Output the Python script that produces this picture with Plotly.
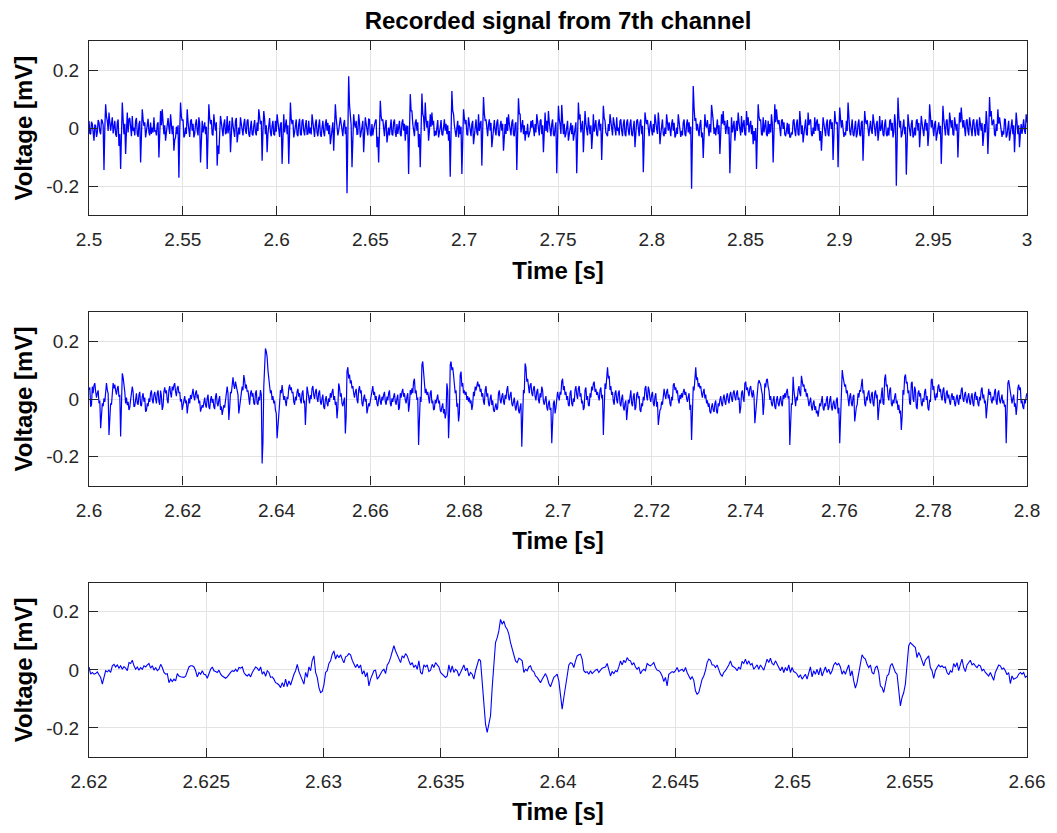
import numpy as np
import plotly.graph_objects as go

# Voltage samples in microvolts, evenly spaced in time.
# The two upper panels are dense, so each has a second list with the
# in-between excursions of the trace (read as the other edge of the band).
wide_uv = [
    25, -21, 14, -43, 8, -15, 19, -21, 25, -144, 82, 25, 54, -9, 37, 8, -21, 19, -61, -141,
    88, -21, -89, 54, 31, -21, 42, 2, 25, -21, 14, -118, 65, 8, -32, 14, -15, 19, 2, 37,
    -9, 14, -101, 59, 65, -21, -43, 25, 2, 48, -21, -78, -32, -21, -171, 88, 25, -32, 2, 65,
    -21, 25, -9, -32, 14, -9, 37, -118, 25, 2, -21, -141, 82, 14, -21, 48, -9, -129, -89, 42,
    -9, 14, -21, 42, 2, -83, 37, -21, 25, -49, 2, 37, -21, 14, -9, 25, -21, 2, -21, 8,
    -15, 19, 65, 14, -112, 59, -21, -83, 25, -15, 8, -21, 25, 48, -21, 14, -123, 48, 14, -21,
    -123, 88, 14, -32, 25, -21, 14, -21, 25, -9, 8, -21, 25, 2, 48, -21, 14, -15, 8, -21,
    2, -15, 14, -9, -21, -55, 2, -78, 82, 14, -9, 37, -21, 14, -21, -224, 179, 25, -135, 48,
    2, -21, 48, -32, 14, -83, 37, -9, 31, -21, 14, -3, 25, -66, -118, 94, 25, -21, 14, -49,
    2, 14, -21, 19, -15, 14, 2, -21, 19, -9, -43,
    -21, -158, 117, 59, -21, 19, -9, -66, -135, 119, 37, 88, 2, -43, 48, 54, 25, -9, 14, -32,
    2, -21, 19, -9, -21, -43, -167, 128, 48, -21, 2, -32, -21, -158, 65, 14, -21, 37, -9, 14,
    -55, 19, -15, 48, 14, -129, 107, 25, -21, 14, -9, -66, 14, -9, 19, -21, 8, -9, -78, 14,
    37, 48, -15, 19, -21, 14, -144, 103, 48, 14, -21, -43, -21, -32, -9, 2, -21, 14, 48, -9,
    25, -21, -83, 54, 25, 59, -21, 14, -21, 2, -155, 77, 14, 80, -21, -32, 2, -43, -9, -21,
    -43, 14, -155, 88, 48, 2, -83, 59, -9, 37, -21, -72, 48, 2, -21, 14, -9, -110, 77, 25,
    -21, 14, 48, -3, 37, -21, 37, 2, 25, -9, 14, -21, 19, -9, 14, -21, 2, -66, 25, -9,
    19, -21, -152, 54, 14, -21, 8, -9, 14, 48, -3, 54, -55, 14, -21, 2, 48, -9, -21, 14,
    -9, -32, 2, 48, -21, -9, 19, -21, 14, -15, -21, -209, 145, 25, -9, -21, 14, -32, -103, 48,
    2, -21, 14, 80, 25, 2, 19, -21, -89,
    48, 59, 25, 14, -21, -155, 37, 14, -43, 25, 54, -21, 42, 14, -21, 59, 37, 8, -21, -55,
    -43, -141, 82, 25, -21, 37, 2, -21, 25, 14, 48, -118, 82, 65, 14, -21, 25, -3, -21, -9,
    -21, -32, -15, 25, -9, 14, -21, 59, -21, -49, 14, -21, 54, 25, -21, 2, 37, 19, -9, -43,
    -78, 37, -21, 14, -21, 25, -3, -110, 59, 14, -135, 71, 2, -21, -15, 25, 88, -9, 14, -21,
    2, -32, 14, -21, 19, -112, 59, 14, -21, 2, -9, 48, -21, 14, -43, 42, 2, -21, 14, -21,
    2, 25, -9, -32, 48, -198, 105, 2, -32, 25, -21, -160, 48, -21, 14, -32, 2, 25, -9, -66,
    42, -21, 14, -9, -61, 82, 2, -21, 14, -43, -9, -21, -123, 77, -9, 25, -21, 54, 2, -21,
    37, -9, -101, 54, 71, 2, -21, 25, -9, 37, -21, 25, -9, 14, -21, 37, -9, -61, 14, 59,
    -89, 107, 59, 25, -21, 14, 65, 37, -21, -9, 31, -32, 2, -43, 25, -21, -83, 54, -21, -66,
    14, 25, -9, 48,
]

wide_uv_mid = [
    -18, 22, -25, 12, -30, 28, -12, 30, 10, 0, 40, -10, 20, 15, -18, 25, -30, 30, -20, 0,
    30, 15, -10, -15, 35, -28, -10, -25, 35, -30, 25, -5, 30, 20, -10, 32, -25, -20, -15, -10,
    -25, 20, -10, 10, 20, 10, -15, 35, -20, 10, 8, -40, 5, 10, -10, 40, 30, -25, -20, 20,
    -30, 30, 15, -20, 30, -25, 15, -30, -15, 20, 5, -5, 35, 28, -25, 15, 20, -60, -20, 20,
    -28, 30, -15, -18, 25, -20, 10, -30, 35, -15, -22, 15, -25, 32, -20, 30, -30, 25, -25, 28,
    -25, -10, 30, 25, -10, 30, 10, -20, 35, -28, 25, -25, -12, 15, -30, 20, -10, -15, 30, 10,
    -5, 30, 28, -15, 30, -28, 32, -25, 30, -25, 28, -20, -18, -22, 20, -30, 30, -28, 30, -30,
    25, -28, 30, 18, 10, -25, 20, -10, 35, -25, 10, 15, -28, 28, 5, -20, 80, 10, -10, 15,
    25, -20, 20, -15, 25, -20, 15, -25, 30, -28, -25, 20, 30, -30, -10, 40, 30, -28, 28, -15,
    -25, 30, -25, 30, -30, -20, 25, -28, 30, 15, 10,
    8, -10, 60, 15, -28, 30, 20, -20, -5, 50, -10, 30, 25, -10, 5, 10, -28, -25, 28, -20,
    28, -25, 30, 15, 10, -10, -15, 60, 10, -30, 25, 10, 5, -10, 35, 28, -25, 15, -28, 25,
    -20, 30, -25, -10, 25, -10, 50, 30, -28, 30, 18, -25, 28, -25, 30, -28, 25, 15, -25, -20,
    -10, 15, -25, 30, -28, 20, -10, 50, -15, 28, 10, -10, 15, -20, 25, 28, -28, -15, 15, -25,
    30, 10, -15, -10, -15, 20, -28, 30, -28, 20, -10, 30, -20, 25, 15, -20, 25, -20, 18, 10,
    -15, 20, -10, 30, -15, 25, -15, 15, -25, 15, 10, -25, -12, 28, -28, 30, 15, -10, 35, -15,
    -28, -10, 15, -25, 15, -25, -10, -25, 30, -28, 30, -28, 30, -25, 30, -28, 25, -20, 30, -28,
    30, 8, -10, 30, 28, -28, 25, -25, -15, 15, -20, 20, -20, 30, -28, -20, 15, 20, -28, 30,
    18, -25, -20, 15, -30, -25, 30, -28, 30, 20, 5, -20, 70, 35, 15, -28, 28, -15, -15, 10,
    28, -28, -15, 30, -20, -25, 30, 10, -20,
    15, 10, -20, 28, 5, -15, -15, 25, -15, -10, 20, -25, -15, 28, -25, 10, -15, 25, 10, -10,
    0, -10, 40, 30, -25, -15, 28, -28, -20, -15, 15, -10, 20, 30, 28, -28, 30, 20, -28, 18,
    15, -30, -22, 30, -28, 30, -25, 15, 10, -20, 30, -25, 10, 30, -28, -20, -10, 30, 15, -10,
    -25, 15, -28, 30, -28, 30, 20, -10, 25, 20, -10, 30, 28, -30, -25, -10, 25, -25, 30, -28,
    25, -20, 30, -28, 25, -10, 25, 28, -28, 25, -20, 15, -28, 25, -15, -10, 28, -28, 30, -28,
    -25, 30, 18, -15, 15, -10, 40, 25, -20, 30, 5, -10, 15, -28, 28, -25, -25, 30, 18, -20,
    15, -28, 30, 18, -20, 35, 28, -28, 25, -20, 20, 8, -10, 30, -25, 30, -25, 15, 28, -25,
    15, 15, -15, 20, 30, 28, -28, 30, -25, 15, -28, 30, -28, 30, -25, 15, 18, -25, -15, 20,
    -10, 40, 10, 30, -28, -10, 15, 15, -30, -22, 30, -25, 25, -15, 30, 10, -20, 20, 10, -20,
    -20, 30, -20, 20,
]

mid_uv = [
    31, -27, 43, 48, 25, 20, -15, -101, -15, 2, 43, 31, -125, -15, 43, 37, 29, 37, 8, -130,
    89, 54, -15, -21, -38, -3, 43, -27, 8, -15, 14, -21, 8, -9, -44, -15, 2, 20, -3, 14,
    2, 20, -9, 29, -38, 25, 20, -3, 31, 20, 43, 48, 25, 37, 20, -9, -38, -3, -15, -50,
    2, 14, 29, 8, 20, 2, -15, -44, -21, -9, -21, 2, -27, -3, -13, -27, 8, -15, -3, -38,
    -55, -21, -3, 43, -73, 25, 66, 48, 60, 20, -50, 2, 43, 83, 37, 25, -9, 20, 8, -15,
    20, -15, 8, 31, -223, 43, 175, 146, 60, 20, -3, -15, -38, -136, -27, 31, 48, -3, -15, 8,
    37, 31, 20, -9, 8, 25, 8, -3, 20, -15, -90, 43, -3, 14, 37, 14, 25, 2, 20, -9,
    2, -27, -3, -15, 2, 20, 25, -3, -21, -67, 54, 8, -15, -9, -119, 95, 71, 54, 37, 20,
    25, -3, 31, 20, -15, 2, -9, -50, -15, -3, 37, 14, -3, -15, 2, -9, 8, 14, -9, 8,
    20, -15, 2, 8, -9, 2, -38, 20, 25, 8, -3,
    8, -44, 31, 37, 60, 20, -3, -159, 8, 118, 83, 20, 14, -3, 20, -15, -38, -3, 2, -15,
    -38, -27, -50, -67, 54, -136, 118, 100, 83, 20, -27, -78, 83, 43, 20, 14, -3, -9, -15, -38,
    25, 43, 54, 43, 25, 8, -9, 31, 8, -15, 2, -21, -38, -27, -38, 20, -3, 8, -9, 14,
    31, 8, 14, -15, -9, -27, -15, -38, -27, -165, 31, 123, 60, 31, 48, 20, 37, 8, 25, -3,
    20, 43, -9, -3, -27, -15, -38, -153, -15, -50, 14, 8, 25, 60, 31, 14, -3, -21, 20, -15,
    2, 31, 14, 37, 8, -15, -38, 31, -3, -21, 20, 43, 54, 25, 14, 8, 31, 2, -125, 54,
    100, 71, 31, 14, -9, 20, -3, 20, -15, 2, -27, -15, -73, -3, 20, -15, 8, -38, 14, 2,
    -38, -15, 8, 37, 8, 43, 2, 14, -15, 8, -27, -90, -38, -9, 20, 14, 25, 2, -15, 8,
    48, 31, 20, -3, 14, 20, 25, 14, 2, 8, -38, -142, 43, 100, 66, 43, 37, 20, 25, 2,
    -15, -27, -44, -27, -38, -15, -44, -15, -3,
    -15, 2, -9, 8, -3, 14, 2, 20, 8, 20, -3, -50, 20, 2, 54, 31, 25, 37, 20, 31,
    -84, -3, 54, 56, 31, -55, 54, 66, 43, -3, -15, -3, -27, -3, -15, -3, -15, 14, 20, 25,
    2, -159, -15, 77, -15, 8, 31, 20, 80, 43, 25, 8, -15, -9, -27, -15, -38, -50, -61, -15,
    -3, -32, -15, -3, -38, -3, -27, -15, -32, -3, -50, -153, 89, 77, 43, 20, -15, 8, -15, 8,
    -78, -27, 20, 31, 60, 20, -15, 8, 20, -3, 14, -15, 20, 2, -73, -3, 31, -15, 71, 43,
    8, 31, -15, -3, 8, -15, -38, -50, -107, 31, 77, 54, 20, -15, 54, 2, 43, -27, 20, 8,
    -15, 2, 25, -3, -32, -3, 66, 31, 8, 20, 43, 25, 8, 31, -3, 20, 2, -9, 8, -3,
    -15, 2, -9, 14, 31, 2, 14, -3, 8, -9, 8, -15, 14, -3, -15, 8, 31, 2, -15, -67,
    25, 14, -3, 8, 25, -9, 20, -3, 2, -15, -27, -153, 54, 43, -3, 2, -27, -55, 37, 31,
    -15, -27, -3, 8,
]

mid_uv_mid = [
    40, -20, 20, 55, 5, 30, -5, -60, -25, -10, 55, 20, -50, -20, 55, 50, 15, 45, 15, -5,
    75, 25, 5, -10, -30, 20, 25, -25, 20, -20, 25, -25, 20, 5, -40, -25, -10, 30, -15, 25,
    -15, 30, -20, 10, -25, 40, 30, -15, 45, 5, 30, 55, 10, 45, 25, 0, -25, 10, -5, -30,
    -15, 0, 35, -5, 30, 15, -5, -35, -30, 5, -30, 15, -35, 10, 0, -35, 20, -25, 10, -25,
    -40, -30, 15, 20, -30, 20, 75, 35, 45, 15, -30, 10, 30, 65, 50, 30, -20, 30, 20, -20,
    30, -20, -5, 15, -150, 100, 165, 100, 45, 30, 10, -5, -50, -80, -15, 20, 30, 10, -25, 0,
    50, 40, 25, -20, -5, 35, 20, -15, 30, -5, -40, 25, -15, 0, 45, 0, 35, -10, 30, -20,
    15, -35, 10, -25, -10, 5, 35, 10, -10, -30, 40, 20, -25, 5, -60, 110, 85, 65, 45, 5,
    35, -15, 45, 30, -25, 15, 0, -35, -25, 10, 45, 25, 10, -25, 15, -20, -5, 25, -20, -5,
    30, -25, -10, 20, -20, 15, -30, 5, 35, 20, -15,
    20, -20, 15, 20, 70, 30, 5, -60, -10, 130, 60, 35, 25, -15, 30, -5, -35, -15, 15, -5,
    -45, -15, -35, -50, 30, -60, 130, 110, 60, 30, -15, -50, 95, 55, 30, 25, 10, 5, -5, -20,
    10, 30, 60, 50, 35, 20, -20, 45, 20, -25, 15, -5, -45, -15, -30, 30, -15, 20, -20, 0,
    45, -5, 25, -25, 5, -40, -5, -50, -15, -70, 20, 110, 70, 20, 55, 10, 45, -5, 35, -15,
    5, 30, -20, 10, -40, -5, -30, -70, -5, -30, 25, -5, 15, 70, 45, 25, 10, -25, 30, -25,
    -10, 45, 0, 45, 20, -5, -30, 40, 10, -25, 5, 30, 60, 35, 25, -5, 40, 15, -40, 35,
    110, 80, 45, 25, -20, 30, -15, 30, -25, 15, -40, -5, -40, -15, 30, -25, 20, -30, 25, 10,
    -45, -25, -5, 45, -5, 30, -10, 25, -25, 20, -10, -60, -35, -20, 35, 0, 35, 15, -25, -5,
    55, 40, 30, -15, 0, 5, 35, 25, -10, 20, -20, -50, 30, 110, 75, 55, 45, 5, 35, 15,
    -5, -15, -50, -15, -45, -5, -50, -25, 10,
    -25, 15, -20, 20, -15, 25, -10, 30, -5, 30, 5, -30, 30, -10, 60, 40, 10, 45, 5, 10,
    -40, 10, 65, 50, 15, -20, 40, 70, 30, 10, -25, 10, -35, 10, -25, 10, -25, 0, 5, 35,
    10, -70, -20, 30, -25, -5, 45, 10, 65, 50, 35, 20, -25, 5, -40, -5, -25, -40, -45, -25,
    10, -40, -25, 10, -30, 10, -40, -5, -35, 5, -30, -40, 100, 65, 50, 30, -25, 20, -25, 15,
    -50, -20, 5, 25, 70, 30, -25, -5, 30, -15, 25, -25, 30, 15, -40, -15, 40, -20, 85, 50,
    -5, 40, -25, -15, 20, -5, -20, -40, -60, 15, 85, 60, 30, -20, 60, -10, 30, -35, 30, 20,
    -25, -10, 35, 10, -40, -10, 70, 45, -5, 5, 50, 35, -5, 40, -15, 30, 15, -20, 20, 10,
    -25, 15, -20, 0, 40, -10, 25, -15, 20, -20, 20, -25, 25, 10, -25, -5, 40, 15, -5, -30,
    35, 25, -15, -5, 35, -20, 30, -15, 15, -5, -20, -40, 65, 30, -15, 15, -15, -25, 50, 40,
    -5, -35, -15, 20,
]

zoom_uv = [
    10, -15, -9, -15, -13, -7, -17, -26, -49, -21, -3, -7, -1, -9, 14, 19, 10, 17, 6, 14,
    2, 11, 6, -3, 25, 22, 33, 14, 2, 10, -1, 8, 2, 14, 10, 17, 22, 6, 14, -1,
    8, -3, 2, 19, 8, -9, -15, -13, -44, -32, -40, -32, -38, -13, -21, -24, -26, -26, -22, -9,
    10, 14, 14, 10, -3, -24, -9, -15, -3, -15, -17, -29, -9, 2, 10, -3, -6, -9, -1, -15,
    -21, -26, -29, -24, -15, -9, -3, -6, 2, -6, 8, 6, 10, -9, -17, -21, -15, -24, -9, 2,
    10, 6, -3, 10, -15, -6, -22, -3, -9, -26, -24, -32, -44, -47, -52, -61, -44, -58, -32, -58,
    -38, -52, -32, -15, -3, 19, -6, -21, -32, -49, -9, -26, 10, -3, 33, 48, -9, -26, -61, -78,
    -74, -52, -9, -3, 22, 31, 54, 65, 37, 52, 42, 52, 37, 24, 45, 48, 56, 52, 33, 17,
    8, 19, 6, 17, -15, -3, -24, -9, -55, -32, -17, -3, -1, -32, -24, -13, -3, 2, -13, 17,
    25, 42, 68, 83, 65, 52, 40, 25, 48, 42, 56,
    48, 31, 17, 25, 8, 17, 2, 31, -9, -15, 17, 10, 17, -6, -1, 19, 8, 25, 17, 10,
    -9, -15, -21, -26, -21, 17, -9, 14, -9, 2, -3, -21, -9, 2, 17, -3, 6, -21, -9, -15,
    -32, -3, 22, 37, 31, -38, -95, -187, -215, -187, -158, -61, 31, 94, 111, 134, 174, 157, 168, 148,
    140, 123, 94, 71, 48, 31, 25, 40, 37, 31, -9, 2, -3, 10, 14, -3, -6, -21, -26, -38,
    -44, -32, -21, -13, -26, -47, -58, -44, -26, -21, -15, -38, -95, -135, -95, -49, -21, 17, 25, 22,
    8, 31, 48, 52, 54, 37, -3, -9, -6, -15, -3, -13, -6, -1, 2, -9, -1, 6, 8, 10,
    22, 2, -21, -6, -13, -3, -6, 10, 31, 17, 33, 25, 42, 33, 31, 17, 25, 10, 2, 10,
    -13, -3, 2, -3, 22, 17, 14, 19, 25, 8, -1, -3, -9, -21, -40, -26, -55, -15, -9, -6,
    -9, -3, 8, -6, -1, 2, -6, 8, -9, -21, -32, -24, -36, -72, -84, -78, -49, -32, -21, -3,
    25, 37, 33, 17, 17, 8, 17, 2, -15,
    -22, -9, -3, 6, 17, 31, 14, 10, 6, -3, 10, 2, 29, 22, 37, 19, 31, 17, 22, 2,
    8, 17, 2, 17, 8, -1, 17, 37, 25, 40, 22, 17, 31, 19, 8, -3, 10, -9, 8, -3,
    17, -9, 8, -6, -9, -15, -26, -17, -32, -21, -15, -32, -9, 10, -24, -3, -15, 2, -17, 8,
    -21, -3, 10, -9, 2, -15, -3, 17, 25, 17, 22, 10, -15, -3, -15, 2, 17, -21, -3, -38,
    -63, -44, -15, 17, 52, 42, 37, 19, 8, 17, -9, -15, 8, 14, -9, -55, -61, -78, -49, -21,
    -15, 14, 22, 8, -9, -15, -61, -124, -95, -78, -49, 8, 83, 94, 88, 83, 77, 42, 60, 48,
    31, 14, 33, 42, 48, 8, -3, -29, -3, 8, 17, 10, 14, 8, 10, -9, -17, -3, -9, 22,
    10, 25, -3, 19, 37, 8, -6, 17, 25, 33, 17, 22, 14, 8, 17, 14, -3, 2, -9, -15,
    -21, -9, -21, -36, -9, 6, 17, 14, 2, 6, -3, -17, -9, -47, -21, -32, -29, -26, -15, -9,
    -15, -9, -26, -21,
]

windows = [(2.5, 3.0), (2.6, 2.8), (2.62, 2.66)]

wide_ticks = [2.5, 2.55, 2.6, 2.65, 2.7, 2.75, 2.8, 2.85, 2.9, 2.95, 3.0]
wide_labels = ["2.5", "2.55", "2.6", "2.65", "2.7", "2.75", "2.8", "2.85", "2.9", "2.95", "3"]
mid_ticks = [2.6, 2.62, 2.64, 2.66, 2.68, 2.7, 2.72, 2.74, 2.76, 2.78, 2.8]
mid_labels = ["2.6", "2.62", "2.64", "2.66", "2.68", "2.7", "2.72", "2.74", "2.76", "2.78", "2.8"]
zoom_ticks = [2.62, 2.625, 2.63, 2.635, 2.64, 2.645, 2.65, 2.655, 2.66]
zoom_labels = ["2.62", "2.625", "2.63", "2.635", "2.64", "2.645", "2.65", "2.655", "2.66"]

y_ticks = [-0.2, 0, 0.2]
y_labels = ["-0.2", "0", "0.2"]

FONT = "Liberation Sans, Arial, Helvetica, sans-serif"
AX = "#262626"


def merge(a, b):
    # put each in-between reading after the sample it follows
    out = np.empty(len(a) * 2)
    out[0::2] = a
    out[1::2] = b
    return out


# (samples, time window, ticks, tick labels, vertical domain, line width)
panels = [
    (merge(wide_uv, wide_uv_mid), windows[0], wide_ticks, wide_labels, [0.7566, 1.0], 1.3),
    (merge(mid_uv, mid_uv_mid), windows[1], mid_ticks, mid_labels, [0.379, 0.621], 1.2),
    (np.array(zoom_uv, dtype=float), windows[2], zoom_ticks, zoom_labels, [0.0, 0.2434], 1.1),
]

fig = go.Figure()
layout = {}
for i, (uv, (t0, t1), ticks, labels, dom, lw) in enumerate(panels, start=1):
    sfx = "" if i == 1 else str(i)
    t = np.linspace(t0, t1, len(uv))
    v = uv / 1000.0
    fig.add_trace(go.Scatter(
        x=t, y=v, mode="lines",
        line=dict(color="#0000ff", width=lw),
        xaxis="x" + sfx, yaxis="y" + sfx, showlegend=False,
        hoverinfo="skip",
    ))
    common = dict(
        ticks="inside", ticklen=9, tickwidth=1, tickcolor=AX,
        showline=True, linecolor=AX, linewidth=1.3, mirror="ticks",
        showgrid=True, gridcolor="#e3e3e3", gridwidth=1, zeroline=False,
        tickfont=dict(family=FONT, size=19, color=AX),
    )
    layout["xaxis" + sfx] = dict(
        common, range=[t0, t1], tickvals=ticks, ticktext=labels,
        anchor="y" + sfx, domain=[0, 1], ticklabelstandoff=7,
        title=dict(text="Time [s]", standoff=12,
                   font=dict(family=FONT, size=24, color="#000000", weight="bold")),
    )
    layout["yaxis" + sfx] = dict(
        common, range=[-0.3, 0.3], tickvals=y_ticks, ticktext=y_labels,
        anchor="x" + sfx, domain=dom, ticklabelstandoff=5,
        title=dict(text="Voltage [mV]", standoff=6,
                   font=dict(family=FONT, size=24, color="#000000", weight="bold")),
    )

# the page body adds an 8px offset, so the figure is sized to fit inside the window
fig.update_layout(
    **layout,
    width=1049, height=825,
    margin=dict(l=81, r=29, t=33, b=73),
    paper_bgcolor="white", plot_bgcolor="white",
    title=dict(text="Recorded signal from 7th channel", x=0.5, xref="paper",
               y=1 - 13 / 825, yref="container", yanchor="middle",
               font=dict(family=FONT, size=24, color="#000000", weight="bold")),
)

fig.write_html("out.html")
